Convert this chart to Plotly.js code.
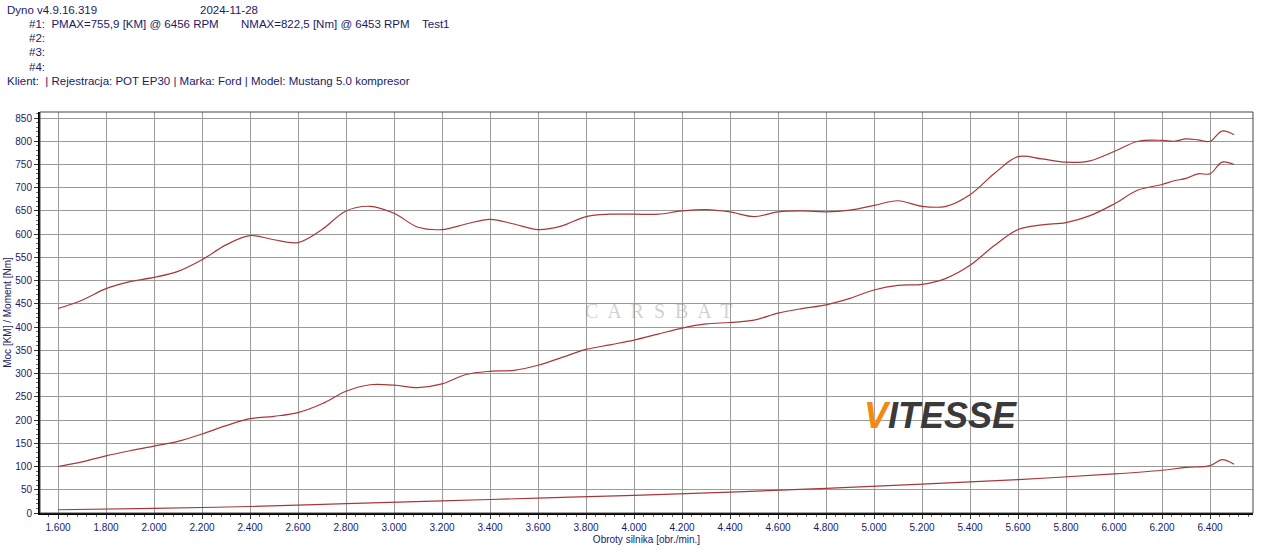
<!DOCTYPE html>
<html><head><meta charset="utf-8">
<script src="https://cdn.plot.ly/plotly-3.0.1.min.js"></script>
<style>body{margin:0;background:#fff}#c{width:1280px;height:558px}</style>
</head><body><div id="c"></div>
<script>
const rpm = [1600,1700,1800,1900,2000,2100,2200,2300,2400,2500,2600,2700,2800,2900,3000,3100,3200,3300,3400,3500,3600,3700,3800,3900,4000,4100,4200,4300,4400,4500,4600,4700,4800,4900,5000,5100,5200,5300,5400,5500,5600,5700,5800,5900,6000,6100,6200,6250,6300,6350,6400,6450,6500];
const torque = [440,458,483,498,507,520,545,577,597,588,582,610,650,660,645,615,610,622,632,622,610,618,638,643,643,643,650,653,648,638,648,650,648,652,662,672,660,660,685,730,767,762,755,758,778,800,802,800,805,803,800,822,814];
const power = [100,110,123,134,144,154,170,188,203,208,216,235,262,276,275,270,278,298,305,307,318,335,352,362,372,385,398,407,410,415,430,440,448,462,480,490,492,505,533,575,610,620,625,640,665,695,707,715,720,730,730,755,750];
const lossRpm = [1600,2000,2400,2800,3200,3600,4000,4400,4800,5200,5600,6000,6200,6300,6400,6450,6500];
const loss = [7,10,14,20,26,32,38,45,53,62,72,84,92,98,102,115,105];
const xTicks = [1600,1800,2000,2200,2400,2600,2800,3000,3200,3400,3600,3800,4000,4200,4400,4600,4800,5000,5200,5400,5600,5800,6000,6200,6400];
const xTickText = xTicks.map(v => (v/1000).toFixed(3));
const yTicks = [0,50,100,150,200,250,300,350,400,450,500,550,600,650,700,750,800,850];
const lc = '#a83838';
const tr = (x,y)=>({x,y,type:'scatter',mode:'lines',line:{color:lc,width:1.2,shape:'spline'},hoverinfo:'skip'});
const hdr = [
 ['Dyno v4.9.16.319',5,10],['2024-11-28',198,10],
 ['#1:  PMAX=755,9 [KM] @ 6456 RPM',27,24],['NMAX=822,5 [Nm] @ 6453 RPM',239,24],['Test1',420,24],
 ['#2:',27,38],['#3:',27,52],['#4:',27,67],
 ['Klient:  | Rejestracja: POT EP30 | Marka: Ford | Model: Mustang 5.0 kompresor',5,81]
];
const PL=40, PW=1213, PT=112, PH=401;
const ann = hdr.map(h=>({text:h[0],x:(h[1]-PL)/PW,y:(PT+PH-h[2])/PH,xref:'paper',yref:'paper',xanchor:'left',yanchor:'middle',showarrow:false,font:{family:'Liberation Sans, Arial',size:11.5,color:'#1a1a66'}}));
ann.push({text:'C  A  R  S  B  A  T',x:4100,y:435,xref:'x',yref:'y',showarrow:false,font:{family:'Liberation Serif',size:20,color:'rgba(150,150,150,0.45)'}});
ann.push({text:'<b><i><span style="color:#f08a10">V</span>ITESSE</i></b>',x:5275,y:210,xref:'x',yref:'y',showarrow:false,font:{family:'Liberation Sans, Arial',size:36,color:'#3a3a3a'}});
Plotly.newPlot('c',[tr(rpm,torque),tr(rpm,power),tr(lossRpm,loss)],{
 width:1280,height:558,showlegend:false,paper_bgcolor:'#fff',plot_bgcolor:'#fff',
 margin:{l:PL,r:27,t:PT,b:45},
 annotations:ann,
 xaxis:{range:[1525,6579],tickvals:xTicks,ticktext:xTickText,showgrid:true,gridcolor:'#9a9a9a',gridwidth:1,
  showline:true,linecolor:'#000',linewidth:2,mirror:false,ticks:'outside',ticklen:4,tickcolor:'#333',
  minor:{dtick:40,ticks:'outside',ticklen:2,tickcolor:'#666',showgrid:false},
  tickfont:{family:'Liberation Sans, Arial',size:10,color:'#1a1a66'},zeroline:false,
  title:{text:'Obroty silnika [obr./min.]',font:{family:'Liberation Sans, Arial',size:10,color:'#1a1a66'},standoff:4}},
 yaxis:{range:[0,863],tickvals:yTicks,showgrid:true,gridcolor:'#9a9a9a',gridwidth:1,
  showline:true,linecolor:'#000',linewidth:2,ticks:'outside',ticklen:4,tickcolor:'#333',
  minor:{dtick:10,ticks:'outside',ticklen:2,tickcolor:'#666',showgrid:false},
  tickfont:{family:'Liberation Sans, Arial',size:10,color:'#1a1a66'},zeroline:false,
  title:{text:'Moc [KM] / Moment [Nm]',font:{family:'Liberation Sans, Arial',size:10,color:'#1a1a66'},standoff:2}},
 shapes:[{type:'rect',xref:'paper',yref:'paper',x0:0,x1:1,y0:0,y1:1,line:{color:'#444',width:1}}]
},{displayModeBar:false,staticPlot:true});
</script></body></html>
